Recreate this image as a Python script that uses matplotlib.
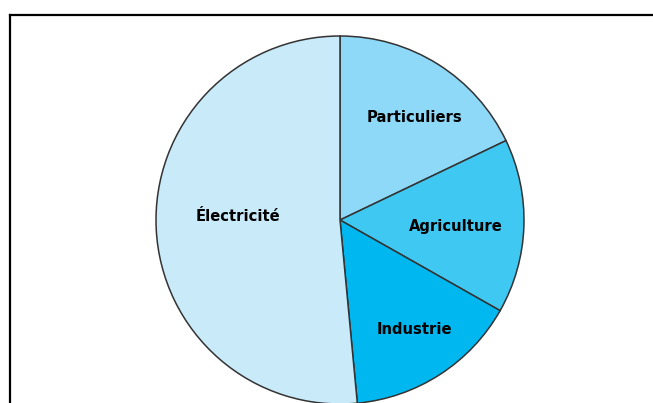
import numpy as np
import matplotlib
matplotlib.use("Agg")
import matplotlib.pyplot as plt

categories = ["Particuliers", "Agriculture", "Industrie", "Électricité"]
values = [17.9, 15.3, 15.3, 51.5]
colors = ["#8ED8F8", "#3FC8F2", "#00B8EF", "#C8EAF9"]

W, H = 653, 403
fig = plt.figure(figsize=(W / 100, H / 100), dpi=100)
ax = fig.add_axes([0, 0, 1, 1])

cx, cy, R = 340, H - 220, 184
wedges, _ = ax.pie(values, colors=colors, startangle=90, counterclock=False,
                   center=(cx, cy), radius=R, frame=True,
                   wedgeprops=dict(edgecolor="#333333", linewidth=1.1))

# label placement: (fraction of radius, angle offset in degrees)
label_pos = [(0.69, -3.9), (0.63, -1.0), (0.72, 1.3), (0.555, -4.8)]
for w, name, (f, da) in zip(wedges, categories, label_pos):
    th = np.deg2rad((w.theta1 + w.theta2) / 2 + da)
    ax.text(cx + f * R * np.cos(th), cy + f * R * np.sin(th), name,
            ha="center", va="center", fontsize=10.6, fontweight="bold",
            family="DejaVu Sans", color="black")

ax.set_xlim(0, W)
ax.set_ylim(0, H)
ax.set_aspect("auto")
ax.axis("off")

# frame lines (top and left)
ax.plot([10, W + 5], [H - 15, H - 15], color="black", lw=1.6,
        solid_capstyle="projecting", clip_on=False)
ax.plot([10, 10], [H - 15, -5], color="black", lw=1.6,
        solid_capstyle="projecting", clip_on=False)

fig.savefig("out.png", dpi=100, facecolor="white")
